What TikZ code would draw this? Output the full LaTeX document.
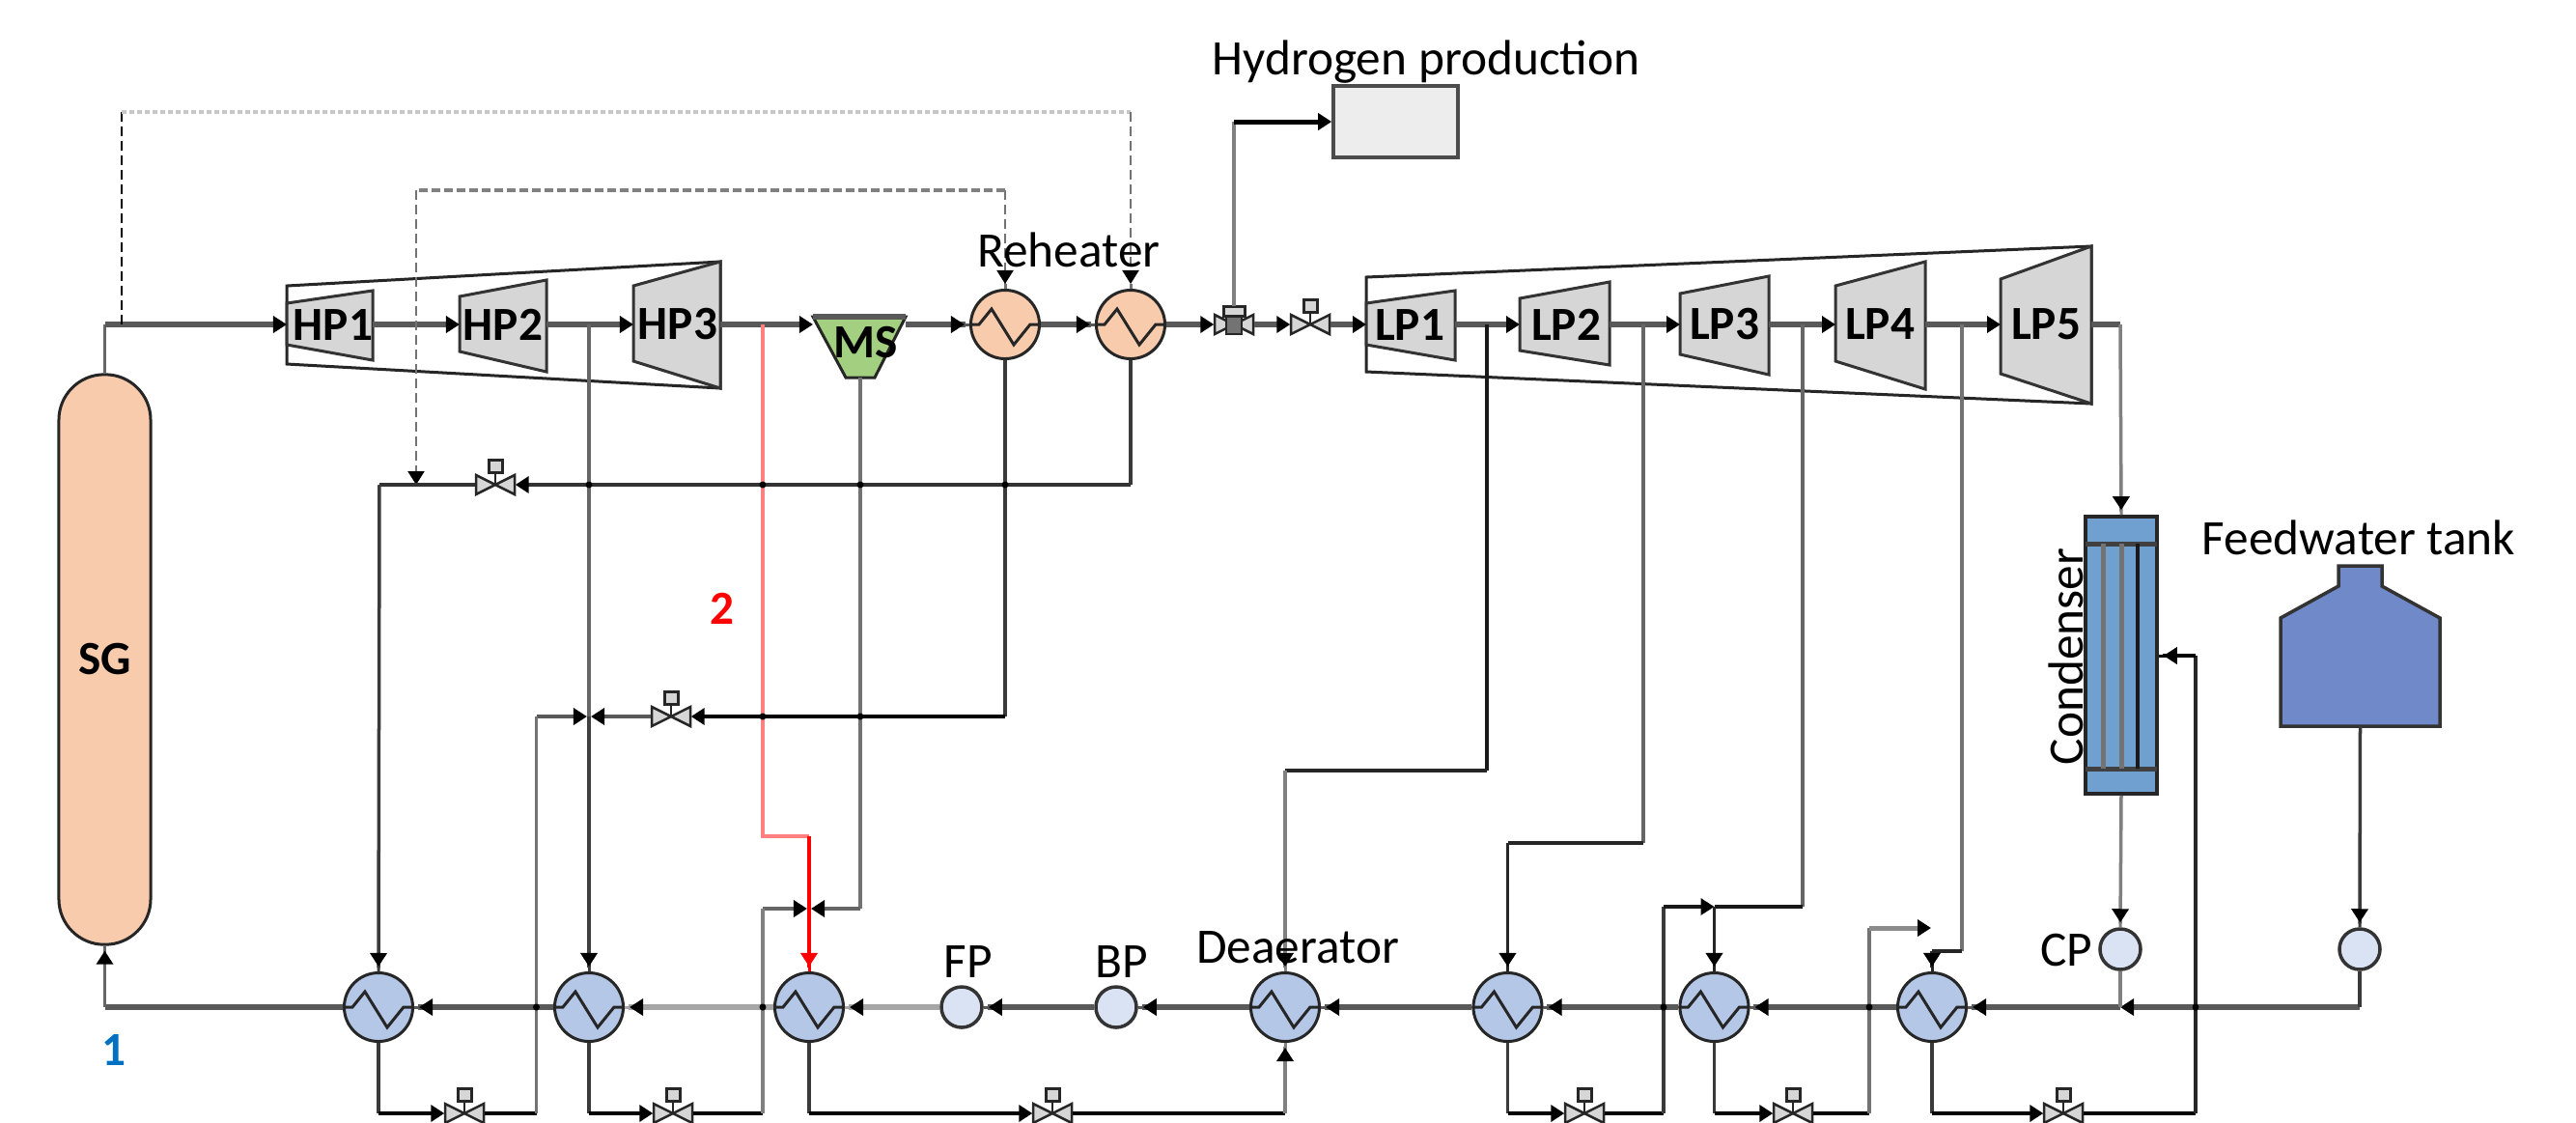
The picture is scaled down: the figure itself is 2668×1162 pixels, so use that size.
\documentclass[tikz,border=0pt]{standalone}
\usepackage{fontspec}
\setmainfont{Carlito}
\usetikzlibrary{arrows.meta,calc}
\definecolor{heat}{HTML}{F8CBAD}
\definecolor{cold}{HTML}{B4C7E7}
\definecolor{pump}{HTML}{DAE3F3}
\definecolor{msgreen}{HTML}{A3CF80}
\definecolor{turb}{HTML}{D6D6D6}
\definecolor{cond}{HTML}{70A0D0}
\definecolor{tank}{HTML}{7089C9}
\definecolor{pipec}{HTML}{3A3A3A}
\definecolor{oneblue}{HTML}{0070C0}
\tikzset{
  x=0.01cm,y=-0.01cm,
  myarr/.tip={Triangle[length=.14cm,width=.17cm,black] Rectangle[length=.05cm,width=.03cm]},
  myplain/.tip={Triangle[length=.14cm,width=.17cm,black]},
  pipe/.style={line width=.035cm,draw=pipec,line join=miter},
  mainl/.style={line width=.06cm,draw=black!65},
  mainp/.style={line width=.06cm,draw=black!35},
  hxbase/.style={circle,draw=black!85,line width=.03cm,minimum size=.71cm,inner sep=0pt},
  hot/.style={hxbase,fill=heat},
  cool/.style={hxbase,fill=cold},
  pumpn/.style={circle,draw=black!80,line width=.035cm,fill=pump,minimum size=.42cm,inner sep=0pt},
  valvenode/.style={minimum width=.40cm,minimum height=.20cm,inner sep=0pt},
  valveline/.style={draw=black!85,fill=turb,line width=.025cm},
  casing/.style={draw=black!85,line width=.03cm},
  turbine/.style={draw=black!80,fill=turb,line width=.03cm},
  lab/.style={inner sep=0pt,font=\fontsize{14.6}{16}\selectfont},
  tlab/.style={inner sep=0pt,font=\fontsize{14}{16}\selectfont\bfseries},
  dashA/.style={line width=.02cm,draw=black,dash pattern=on .1cm off .05cm},
  dashB/.style={line width=.02cm,draw=black!55,dash pattern=on .1cm off .05cm},
  dashC/.style={line width=.04cm,draw=black!22,dash pattern=on .05cm off .03cm},
  dashD/.style={line width=.04cm,draw=black!50,dash pattern=on .09cm off .04cm},
  joint/.style={circle,fill=black,inner sep=0pt,minimum size=.07cm},
}
\newcommand{\hxzig}[1]{\draw[line width=.03cm,draw=black!85] (#1.west) -- ++(10,0) -- ++(13,-16) -- ++(23,37) -- ++(17,-21) -- (#1.east);}
\newcommand{\valveat}[2]{%
  \node[valvenode] (#1) at (#2) {};
  \begin{scope}[shift={(#2)}]
    \draw[valveline] (-20,-10) -- (20,10) -- (20,-10) -- (-20,10) -- cycle;
    \draw[valveline] (0,0) -- (0,-13);
    \draw[draw=black!85,fill=turb,line width=.03cm] (-7,-26) rectangle (7,-13);
  \end{scope}}
\newcommand{\turbineat}[8]{% name, label, xl, xr, ylt, ylb, yrt, yrb
  \draw[turbine] (#3,#5) -- (#4,#7) -- (#4,#8) -- (#3,#6) -- cycle;
  \coordinate (#1in) at (#3,336);
  \coordinate (#1out) at (#4,336);}
\begin{document}
\begin{tikzpicture}
\useasboundingbox (0,0) rectangle (2668,1162);
\fill[white] (0,0) rectangle (2668,1162);
% casings
\draw[casing] (297,296) -- (746,271) -- (746,402) -- (297,377) -- cycle;
\draw[casing] (1415,287) -- (2166,255) -- (2166,418) -- (1415,385) -- cycle;
% turbines
\turbineat{HPa}{HP1}{297}{386}{314}{357}{301}{373}
\turbineat{HPb}{HP2}{476}{566}{307}{364}{290}{385}
\turbineat{HPc}{HP3}{656}{746}{296}{374}{271}{402}
\turbineat{LPa}{LP1}{1415}{1507}{314}{357}{301}{373}
\turbineat{LPb}{LP2}{1574}{1667}{309}{363}{292}{378}
\turbineat{LPc}{LP3}{1740}{1832}{304}{367}{286}{388}
\turbineat{LPd}{LP4}{1901}{1994}{296}{374}{271}{403}
\turbineat{LPe}{LP5}{2072}{2166}{289}{387}{255}{418}
% steam generator
\node[draw=black!85,line width=.03cm,fill=heat,rounded corners=.47cm,minimum width=.95cm,minimum height=5.9cm,inner sep=0pt] (SG) at (108.5,683) {};
% moisture separator
\draw[draw=black!85,fill=msgreen,line width=.03cm] (842,328) -- (938,328) -- (906,391) -- (876,391) -- cycle;
\draw[line width=.06cm,draw=black!65] (842,328) -- (938,328);
\coordinate (MSin) at (842,336);
\coordinate (MSout) at (938,336);
\coordinate (MSbot) at (891,391);
% reheaters
\node[hot] (RH1) at (1041,336) {};
\node[hot] (RH2) at (1171,336) {};
\hxzig{RH1}\hxzig{RH2}
% feedwater heaters
\node[cool] (H1) at (392,1043) {};
\node[cool] (H2) at (610,1043) {};
\node[cool] (H3) at (838,1043) {};
\node[cool] (DA) at (1331,1043) {};
\node[cool] (H5) at (1561.5,1043) {};
\node[cool] (H6) at (1775.5,1043) {};
\node[cool] (H7) at (2001,1043) {};
\hxzig{H1}\hxzig{H2}\hxzig{H3}\hxzig{DA}\hxzig{H5}\hxzig{H6}\hxzig{H7}
% pumps
\node[pumpn] (FP) at (996,1043) {};
\node[pumpn] (BP) at (1156,1043) {};
\node[pumpn] (CP) at (2196,983) {};
\node[pumpn] (TP) at (2444,983) {};
% hydrogen box
\node[draw=black!70,line width=.035cm,fill=black!7,minimum width=1.29cm,minimum height=.74cm,inner sep=0pt] (H2box) at (1445.5,126) {};
% condenser
\node[draw=black!85,line width=.035cm,fill=cond,minimum width=.74cm,minimum height=2.87cm,inner sep=0pt] (CD) at (2197,678.5) {};
\draw[line width=.05cm,draw=black!75] (2160,563) -- (2234,563) (2160,796) -- (2234,796);
\draw[line width=.05cm,draw=black!55] (2178,563) -- (2178,796) (2197,563) -- (2197,796);
\draw[line width=.035cm,draw=black!90] (2214,563) -- (2214,796);
% tank
\draw[draw=black!80,fill=tank,line width=.035cm] (2362,752) -- (2362,640) -- (2422,607) -- (2422,586) -- (2467,586) -- (2467,607) -- (2527,640) -- (2527,752) -- cycle;
\coordinate (TKbot) at (2444.5,752);
% valves
\valveat{Vs}{1357,336}
\valveat{Vr}{513,502}
\valveat{Vq}{695,742}
\valveat{Va}{481,1153}
\valveat{Vb}{697,1153}
\valveat{Vc}{1090,1153}
\valveat{Vd}{1641,1153}
\valveat{Ve}{1857,1153}
\valveat{Vf}{2137,1153}
% three-way valve
\node[valvenode] (Vt) at (1278,336) {};
\draw[valveline] (1258,326) -- (1298,346) -- (1298,326) -- (1258,346) -- cycle;
\draw[draw=black!85,fill=black!55,line width=.025cm] (1270,327) rectangle (1286,346);
\draw[draw=black!85,fill=turb,line width=.03cm] (1267,317) rectangle (1289,327);
\coordinate (Vttop) at (1278,317);
% named junctions
\coordinate (s0) at (108.5,336);
\coordinate (d0) at (126,336);
\coordinate (d0a) at (126,116);
\coordinate (d0b) at (1171,116);
\coordinate (d1) at (1041,197);
\coordinate (d1b) at (431,197);
\coordinate (d1c) at (431,502);
\coordinate (e1) at (610,336);
\coordinate (r0) at (790,336);
\coordinate (r1) at (790,866);
\coordinate (r2) at (838,866);
\coordinate (rowA) at (393,502);
\coordinate (q1) at (555.5,742);
\coordinate (q2) at (610,742);
\coordinate (q3) at (838,941);
\coordinate (q4) at (790,941);
\coordinate (b1) at (392,1153);
\coordinate (b2) at (610,1153);
\coordinate (b3) at (838,1153);
\coordinate (b4) at (555.5,1153);
\coordinate (b5) at (790,1153);
\coordinate (b6) at (1331,1153);
\coordinate (b7) at (1561.5,1153);
\coordinate (b8) at (1723,1153);
\coordinate (b9) at (1775.5,1153);
\coordinate (b10) at (1936,1153);
\coordinate (b11) at (2001,1153);
\coordinate (b12) at (2274,1153);
\coordinate (l1) at (1540,336);
\coordinate (l2) at (1702,336);
\coordinate (l3) at (1867,336);
\coordinate (l4) at (2032,336);
\coordinate (l1b) at (1331,798);
\coordinate (l2b) at (1561.5,873);
\coordinate (l3a) at (1867,939);
\coordinate (l3b) at (1723,939);
\coordinate (l3c) at (1775.5,939);
\coordinate (l4a) at (2032,985);
\coordinate (l4b) at (2001,985);
\coordinate (u1) at (1936,961);
\coordinate (u2) at (2000,961);
\coordinate (exit) at (2196,336);
\coordinate (cond1) at (2274,679);
\coordinate (fwA) at (2444,1043);
\coordinate (fwB) at (2196,1043);
\coordinate (fwC) at (2274,1043);
\coordinate (m1) at (555.5,1043);
\coordinate (m2) at (790,1043);
\coordinate (m3) at (1723,1043);
\coordinate (m4) at (1936,1043);
\coordinate (x1) at (610,502);
\coordinate (x2) at (790,502);
\coordinate (x3) at (891,502);
\coordinate (x4) at (1041,502);
\coordinate (x5) at (790,742);
\coordinate (x6) at (891,742);
% main steam
\draw[pipe,draw=black!60] (SG.north) -- (s0);
\draw[mainl,-{myplain}] (s0) -- (HPain);
\draw[mainl,-{myplain}] (HPaout) -- (HPbin);
\draw[mainl,-{myplain}] (HPbout) -- (HPcin);
\draw[mainl,-{myplain}] (HPcout) -- (MSin);
\draw[mainl,-{myarr}] (MSout) -- (RH1.west);
\draw[mainl,-{myarr}] (RH1.east) -- (RH2.west);
\draw[mainl,-{myplain}] (RH2.east) -- (Vt.west);
\draw[mainl,-{myplain}] (Vt.east) -- (Vs.west);
\draw[mainl,-{myplain}] (Vs.east) -- (LPain);
\draw[mainl,-{myplain}] (LPaout) -- (LPbin);
\draw[mainl,-{myplain}] (LPbout) -- (LPcin);
\draw[mainl,-{myplain}] (LPcout) -- (LPdin);
\draw[mainl,-{myplain}] (LPdout) -- (LPein);
\draw[mainl] (LPeout) -- (exit);
\draw[line width=.035cm,draw=black!50,-{myarr}] (exit) -- (CD.north);
% hydrogen branch
\draw[line width=.035cm,draw=black!50] (Vttop) -- (1278,126);
\draw[line width=.05cm,draw=black,-{myplain}] (1278,126) -- (H2box.west);
% dashed lines
\draw[dashA] (d0) -- (d0a);
\draw[dashC] (d0a) -- (d0b);
\draw[dashB,-{myarr[]}] (d0b) -- (RH2.north);
\draw[dashB,-{myarr[]}] (d1) -- (RH1.north);
\draw[dashD] (d1) -- (d1b);
\draw[dashB,-{myplain}] (d1b) -- (d1c);
% reheater drains
\draw[pipe] (RH2.south) -- (1171,502);
\draw[line width=.045cm,draw=black!80,-{myplain}] (1171,502) -- (Vr.east);
\draw[line width=.045cm,draw=black!80] (Vr.west) -- (rowA);
\draw[pipe,-{myarr}] (rowA) -- (H1.north);
\draw[pipe] (RH1.south) -- (1041,742);
\draw[line width=.045cm,draw=black,-{myplain}] (1041,742) -- (Vq.east);
\draw[line width=.045cm,draw=black!65,-{myplain}] (Vq.west) -- ([xshift=.02cm]q2);
\draw[line width=.045cm,draw=black!65,-{myplain}] (q1) -- ([xshift=-.02cm]q2);
\draw[pipe,draw=black!60] (e1) -- (q2);
\draw[pipe,draw=black!75,-{myarr}] (q2) -- (H2.north);
% MS drain
\draw[line width=.035cm,draw=black!55] (MSbot) -- (891,941);
\draw[line width=.045cm,draw=black!60,-{myplain}] (891,941) -- ([xshift=.02cm]q3);
\draw[line width=.045cm,draw=black!60,-{myplain}] (q4) -- ([xshift=-.02cm]q3);
% extraction 2 (red)
\draw[line width=.04cm,draw=red!50] (r0) -- (r1) -- (r2);
\draw[line width=.035cm,draw=red,-{Triangle[length=.14cm,width=.17cm,red] Rectangle[length=.05cm,width=.03cm]}] (r2) -- (H3.north);
% bottom drains
\draw[pipe] (H1.south) -- (b1);
\draw[line width=.045cm,draw=black,-{myplain}] (b1) -- (Va.west);
\draw[line width=.045cm,draw=black] (Va.east) -- (b4);
\draw[pipe,draw=black!55] (b4) -- (q1);
\draw[pipe] (H2.south) -- (b2);
\draw[line width=.045cm,draw=black,-{myplain}] (b2) -- (Vb.west);
\draw[line width=.045cm,draw=black] (Vb.east) -- (b5);
\draw[pipe,draw=black!50] (b5) -- (q4);
\draw[pipe] (H3.south) -- (b3);
\draw[line width=.045cm,draw=black,-{myplain}] (b3) -- (Vc.west);
\draw[line width=.045cm,draw=black] (Vc.east) -- (b6);
\draw[pipe,draw=black!50,-{myarr}] (b6) -- (DA.south);
\draw[pipe] (H5.south) -- (b7);
\draw[line width=.045cm,draw=black,-{myplain}] (b7) -- (Vd.west);
\draw[line width=.045cm,draw=black] (Vd.east) -- (b8);
\draw[pipe] (b8) -- (l3b);
\draw[pipe] (H6.south) -- (b9);
\draw[line width=.045cm,draw=black,-{myplain}] (b9) -- (Ve.west);
\draw[line width=.045cm,draw=black] (Ve.east) -- (b10);
\draw[pipe,draw=black!55] (b10) -- (u1);
\draw[line width=.05cm,draw=black!45,-{myplain}] (u1) -- (u2);
\draw[pipe] (H7.south) -- (b11);
\draw[line width=.045cm,draw=black,-{myplain}] (b11) -- (Vf.west);
\draw[line width=.045cm,draw=black] (Vf.east) -- (b12);
\draw[pipe,draw=black!85] (b12) -- (cond1);
\draw[line width=.04cm,draw=black,-{myarr}] (cond1) -- (CD.east |- cond1);
% LP extractions
\draw[pipe,draw=black!90] (l1) -- (1540,798);
\draw[line width=.045cm,draw=black!85] (1540,798) -- (l1b);
\draw[pipe,draw=black!50,-{myarr}] (l1b) -- (DA.north);
\draw[pipe,draw=black!60] (l2) -- (1702,873);
\draw[line width=.045cm,draw=black!85] (1702,873) -- (l2b);
\draw[pipe,draw=black!85,-{myarr}] (l2b) -- (H5.north);
\draw[pipe,draw=black!60] (l3) -- (l3a);
\draw[line width=.045cm,draw=black!90] (l3a) -- (l3c);
\draw[line width=.045cm,draw=black!90,-{myplain}] (l3b) -- (l3c);
\draw[pipe,draw=black!85,-{myarr}] (l3c) -- (H6.north);
\draw[pipe,draw=black!55] (l4) -- (l4a);
\draw[line width=.045cm,draw=black!85] (l4a) -- (l4b);
\draw[pipe,draw=black!85,-{myarr}] (l4b) -- (H7.north);
% feedwater line
\draw[mainl] (H1.west) -- (108.5,1043);
\draw[pipe,draw=black!60,-{myarr}] (108.5,1043) -- (SG.south);
\draw[mainl,-{myarr}] (H2.west) -- (H1.east);
\draw[mainp,-{myarr}] (H3.west) -- (H2.east);
\draw[mainp,-{myarr}] (FP.west) -- (H3.east);
\draw[mainl,-{myarr}] (BP.west) -- (FP.east);
\draw[mainl,-{myarr}] (DA.west) -- (BP.east);
\draw[mainl,-{myarr}] (H5.west) -- (DA.east);
\draw[mainl,-{myarr}] (H6.west) -- (H5.east);
\draw[mainl,-{myarr}] (H7.west) -- (H6.east);
\draw[mainl,-{myarr}] (fwB) -- (H7.east);
\draw[mainl,-{myplain}] (fwA) -- (fwB);
\draw[pipe,draw=black!50] (CP.south) -- (fwB);
\draw[line width=.035cm,draw=black!50,-{myarr}] (CD.south) -- (CP.north);
\draw[pipe,-{myarr}] (TKbot) -- (TP.north);
\draw[pipe] (TP.south) -- (fwA);
% crossing points
\foreach \p/\n in {x1/ja,x2/jb,x3/jc,x4/jd,x5/je,x6/jf,m1/jg,m2/jh,m3/ji,m4/jj,fwC/jk} \node[joint] (\n) at (\p) {};
% labels
\node[tlab] (tSG) at (108.5,683) {SG};
\node[tlab] (tHP1) at (345,336) {HP1};
\node[tlab] (tHP2) at (521,336) {HP2};
\node[tlab] (tHP3) at (702,336) {HP3};
\node[tlab] (tMS) at (897,355) {MS};
\node[tlab] (tLP1) at (1460,336) {LP1};
\node[tlab] (tLP2) at (1622,336) {LP2};
\node[tlab] (tLP3) at (1786,336) {LP3};
\node[tlab] (tLP4) at (1947,336) {LP4};
\node[tlab] (tLP5) at (2119,336) {LP5};
\node[lab] (tRH) at (1107,259) {Reheater};
\node[lab] (tHY) at (1477,64) {Hydrogen production};
\node[lab] (tFW) at (2443,557) {Feedwater tank};
\node[lab,rotate=90] (tCD) at (2140,680) {Condenser};
\node[lab] (tFP) at (1003,996) {FP};
\node[lab] (tBP) at (1162,996) {BP};
\node[lab] (tDA) at (1344,981) {Deaerator};
\node[lab] (tCP) at (2140,984) {CP};
\node[tlab,text=red] (t2) at (748,630) {2};
\node[tlab,text=oneblue] (t1) at (118,1087) {1};
\end{tikzpicture}
\end{document}
